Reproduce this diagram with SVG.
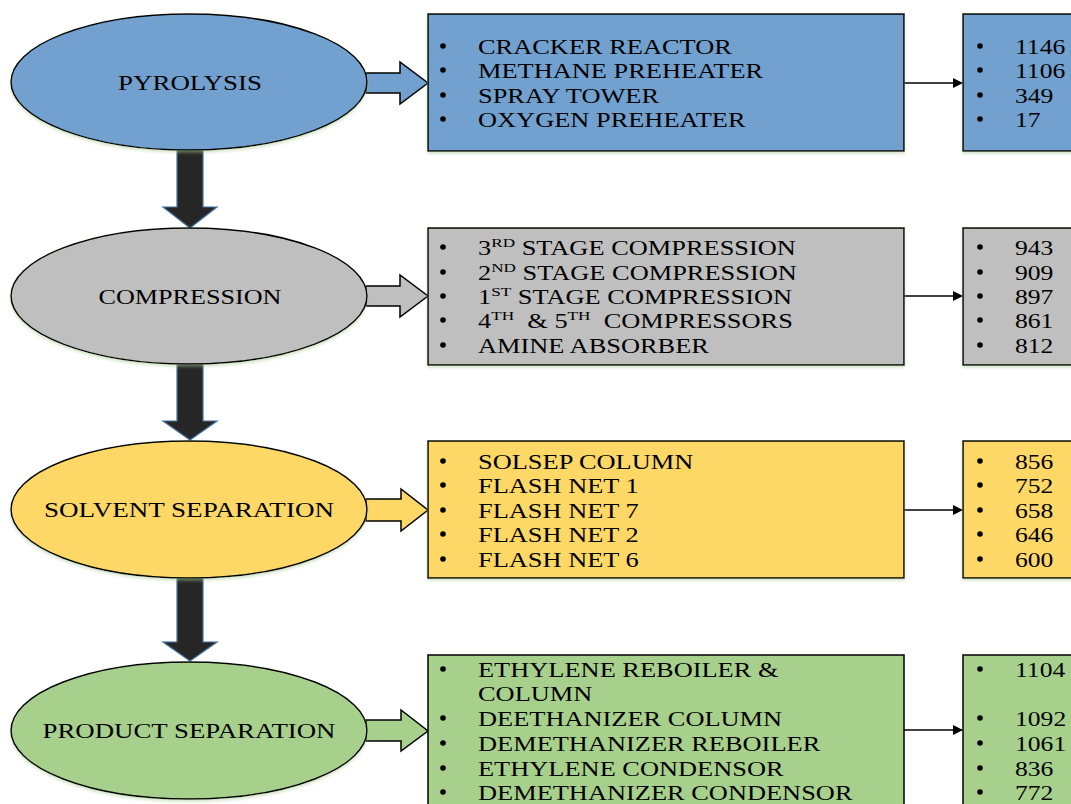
<svg xmlns="http://www.w3.org/2000/svg" width="1071" height="804" viewBox="0 0 1071 804">
<style>
.t{font-family:"Liberation Serif","Times New Roman",serif;font-size:20px;fill:#000;white-space:pre}
.e{font-family:"Liberation Serif","Times New Roman",serif;font-size:22px;fill:#000;text-anchor:middle}
.sup{font-size:13px}
.o{stroke:#000;stroke-width:1.5}
.down{fill:#262626;stroke:#41719c;stroke-width:1.2}
.blue{fill:#72a0cf}.gray{fill:#bfbfbf}.yel{fill:#fdd866}.grn{fill:#a8d08d}
.con{stroke:#000;stroke-width:1.3;fill:none}
</style>
<defs>
<marker id="ah" markerWidth="10" markerHeight="10" refX="9" refY="5" orient="auto" markerUnits="userSpaceOnUse"><path d="M0,0 L10,5 L0,10 Z" fill="#000"/></marker>
<filter id="sh" x="-5%" y="-5%" width="110%" height="115%"><feDropShadow dx="0" dy="2" stdDeviation="1.5" flood-color="#a8c890" flood-opacity="0.5"/></filter>
<g id="dot"><circle r="2.8" fill="#000"/></g>
</defs>

<g id="connectors">
<path class="down" d="M177,150 L203,150 L203,207 L217,207 L190,228 L163,207 L177,207 Z"/>
<path class="down" d="M177,364 L203,364 L203,421 L217,421 L190,440 L163,421 L177,421 Z"/>
<path class="down" d="M177,578 L203,578 L203,642 L217,642 L190,661 L163,642 L177,642 Z"/>
<path class="o blue" d="M366,73 L400,73 L400,62 L428,83 L400,104 L400,93 L366,93 Z"/>
<path class="o gray" d="M366,286 L400,286 L400,275 L428,296 L400,317 L400,306 L366,306 Z"/>
<path class="o yel" d="M366,499 L401,499 L401,489 L428,510 L401,531 L401,521 L366,521 Z"/>
<path class="o grn" d="M366,720 L401,720 L401,710 L428,731 L401,751 L401,741 L366,741 Z"/>
<line class="con" x1="904" y1="83" x2="962" y2="83" marker-end="url(#ah)"/>
<line class="con" x1="904" y1="296" x2="962" y2="296" marker-end="url(#ah)"/>
<line class="con" x1="904" y1="510" x2="962" y2="510" marker-end="url(#ah)"/>
<line class="con" x1="904" y1="730" x2="962" y2="730" marker-end="url(#ah)"/>
</g>

<g id="pyrolysis">
<ellipse class="o blue" cx="189" cy="82" rx="178" ry="68" filter="url(#sh)"/>
<text class="e" x="190" y="90" textLength="144" lengthAdjust="spacingAndGlyphs">PYROLYSIS</text>
</g>
<g id="compression">
<ellipse class="o gray" cx="189" cy="296" rx="178" ry="68" filter="url(#sh)"/>
<text class="e" x="190" y="304" textLength="183" lengthAdjust="spacingAndGlyphs">COMPRESSION</text>
</g>
<g id="solvent-separation">
<ellipse class="o yel" cx="189" cy="509.5" rx="178" ry="68.5" filter="url(#sh)"/>
<text class="e" x="189" y="517" textLength="290" lengthAdjust="spacingAndGlyphs">SOLVENT SEPARATION</text>
</g>
<g id="product-separation">
<ellipse class="o grn" cx="189" cy="730.5" rx="178" ry="68.5" filter="url(#sh)"/>
<text class="e" x="189" y="738" textLength="293" lengthAdjust="spacingAndGlyphs">PRODUCT SEPARATION</text>
</g>

<g id="pyrolysis-units">
<rect class="o blue" x="428" y="14" width="476" height="137" filter="url(#sh)"/>
<use href="#dot" x="443" y="46"/><use href="#dot" x="443" y="70"/><use href="#dot" x="443" y="95"/><use href="#dot" x="443" y="119"/>
<g transform="translate(478 2) scale(1.32 1)">
<text class="t" x="0" y="52">CRACKER REACTOR</text>
<text class="t" x="0" y="76">METHANE PREHEATER</text>
<text class="t" x="0" y="101">SPRAY TOWER</text>
<text class="t" x="0" y="125">OXYGEN PREHEATER</text>
</g>
</g>
<g id="pyrolysis-values">
<rect class="o blue" x="963" y="14" width="120" height="137" filter="url(#sh)"/>
<use href="#dot" x="980" y="46"/><use href="#dot" x="980" y="70"/><use href="#dot" x="980" y="95"/><use href="#dot" x="980" y="119"/>
<g transform="translate(1015 2) scale(1.28 1)">
<text class="t" x="0" y="52">1146</text>
<text class="t" x="0" y="76">1106</text>
<text class="t" x="0" y="101">349</text>
<text class="t" x="0" y="125">17</text>
</g>
</g>

<g id="compression-units">
<rect class="o gray" x="428" y="228" width="476" height="137" filter="url(#sh)"/>
<use href="#dot" x="443" y="247"/><use href="#dot" x="443" y="272"/><use href="#dot" x="443" y="296"/><use href="#dot" x="443" y="320"/><use href="#dot" x="443" y="345"/>
<g transform="translate(478 2) scale(1.32 1)">
<text class="t" x="0" y="253">3<tspan class="sup" dy="-8">RD</tspan><tspan dy="8"> STAGE COMPRESSION</tspan></text>
<text class="t" x="0" y="278">2<tspan class="sup" dy="-8">ND</tspan><tspan dy="8"> STAGE COMPRESSION</tspan></text>
<text class="t" x="0" y="302">1<tspan class="sup" dy="-8">ST</tspan><tspan dy="8"> STAGE COMPRESSION</tspan></text>
<text class="t" x="0" y="326">4<tspan class="sup" dy="-8">TH</tspan><tspan dy="8">  &amp; 5</tspan><tspan class="sup" dy="-8">TH</tspan><tspan dy="8">  COMPRESSORS</tspan></text>
<text class="t" x="0" y="351">AMINE ABSORBER</text>
</g>
</g>
<g id="compression-values">
<rect class="o gray" x="963" y="228" width="120" height="137" filter="url(#sh)"/>
<use href="#dot" x="980" y="247"/><use href="#dot" x="980" y="272"/><use href="#dot" x="980" y="296"/><use href="#dot" x="980" y="320"/><use href="#dot" x="980" y="345"/>
<g transform="translate(1015 2) scale(1.28 1)">
<text class="t" x="0" y="253">943</text>
<text class="t" x="0" y="278">909</text>
<text class="t" x="0" y="302">897</text>
<text class="t" x="0" y="326">861</text>
<text class="t" x="0" y="351">812</text>
</g>
</g>

<g id="solvent-units">
<rect class="o yel" x="428" y="441" width="476" height="137" filter="url(#sh)"/>
<use href="#dot" x="443" y="461"/><use href="#dot" x="443" y="485"/><use href="#dot" x="443" y="510"/><use href="#dot" x="443" y="534"/><use href="#dot" x="443" y="559"/>
<g transform="translate(478 2) scale(1.32 1)">
<text class="t" x="0" y="467">SOLSEP COLUMN</text>
<text class="t" x="0" y="491">FLASH NET 1</text>
<text class="t" x="0" y="516">FLASH NET 7</text>
<text class="t" x="0" y="540">FLASH NET 2</text>
<text class="t" x="0" y="565">FLASH NET 6</text>
</g>
</g>
<g id="solvent-values">
<rect class="o yel" x="963" y="441" width="120" height="137" filter="url(#sh)"/>
<use href="#dot" x="980" y="461"/><use href="#dot" x="980" y="485"/><use href="#dot" x="980" y="510"/><use href="#dot" x="980" y="534"/><use href="#dot" x="980" y="559"/>
<g transform="translate(1015 2) scale(1.28 1)">
<text class="t" x="0" y="467">856</text>
<text class="t" x="0" y="491">752</text>
<text class="t" x="0" y="516">658</text>
<text class="t" x="0" y="540">646</text>
<text class="t" x="0" y="565">600</text>
</g>
</g>

<g id="product-units">
<rect class="o grn" x="428" y="655" width="476" height="160"/>
<use href="#dot" x="443" y="669"/><use href="#dot" x="443" y="718"/><use href="#dot" x="443" y="743"/><use href="#dot" x="443" y="768"/><use href="#dot" x="443" y="792"/>
<g transform="translate(478 2) scale(1.32 1)">
<text class="t" x="0" y="675">ETHYLENE REBOILER &amp;</text>
<text class="t" x="0" y="699">COLUMN</text>
<text class="t" x="0" y="724">DEETHANIZER COLUMN</text>
<text class="t" x="0" y="749">DEMETHANIZER REBOILER</text>
<text class="t" x="0" y="774">ETHYLENE CONDENSOR</text>
<text class="t" x="0" y="798">DEMETHANIZER CONDENSOR</text>
</g>
</g>
<g id="product-values">
<rect class="o grn" x="963" y="655" width="120" height="160"/>
<use href="#dot" x="980" y="669"/><use href="#dot" x="980" y="718"/><use href="#dot" x="980" y="743"/><use href="#dot" x="980" y="768"/><use href="#dot" x="980" y="792"/>
<g transform="translate(1015 2) scale(1.28 1)">
<text class="t" x="0" y="675">1104</text>
<text class="t" x="0" y="724">1092</text>
<text class="t" x="0" y="749">1061</text>
<text class="t" x="0" y="774">836</text>
<text class="t" x="0" y="798">772</text>
</g>
</g>
</svg>
